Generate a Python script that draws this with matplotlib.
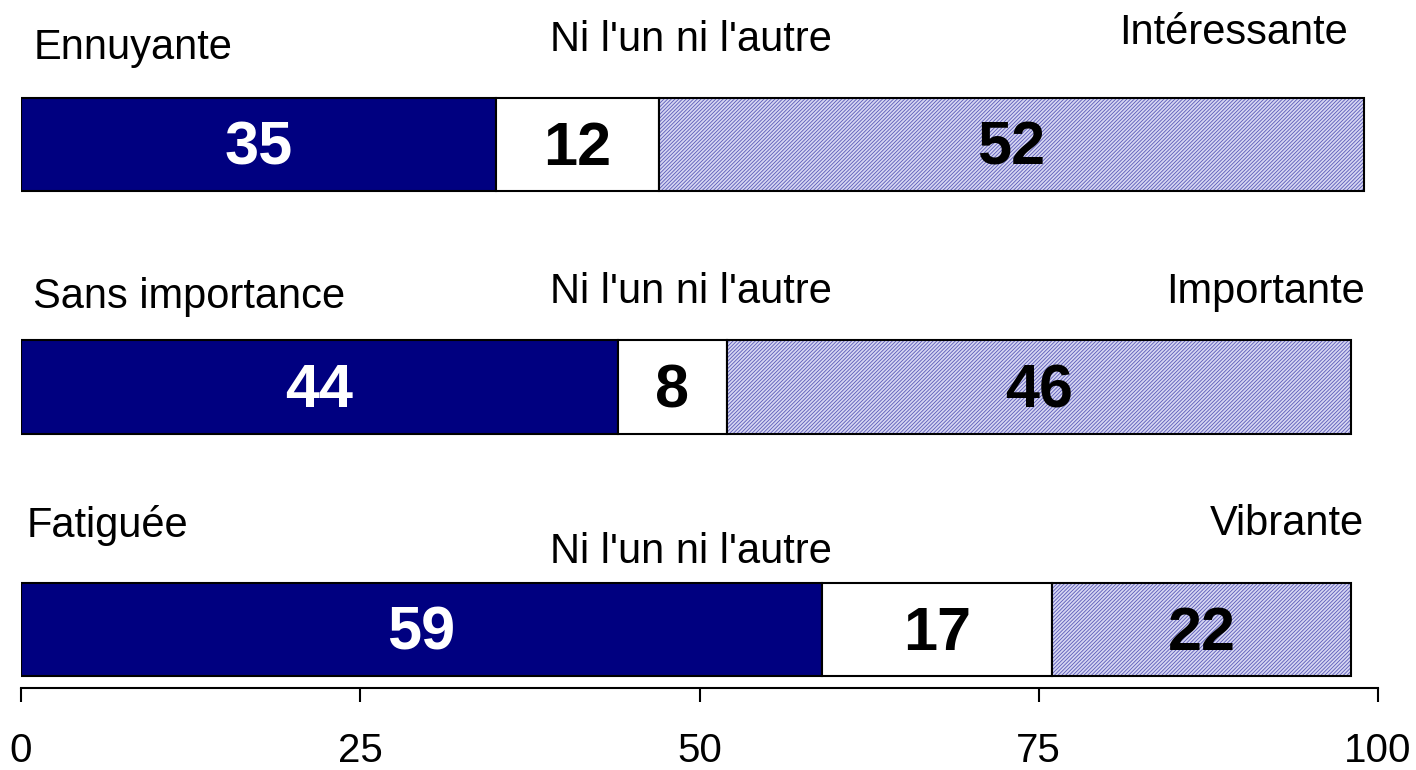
import numpy as np
import matplotlib.pyplot as plt

rows = [0, 1, 2]
left_labels = ['Ennuyante', 'Sans importance', 'Fatiguée']
right_labels = ['Intéressante', 'Importante', 'Vibrante']
mid_label = "Ni l'un ni l'autre"
negative = [35, 44, 59]
neutral = [12, 8, 17]
positive = [52, 46, 22]
ticks = [0, 25, 50, 75, 100]

plt.rcParams['font.family'] = ['Liberation Sans', 'DejaVu Sans']
plt.rcParams['hatch.linewidth'] = 0.6

fig = plt.figure(figsize=(14.16, 7.7), dpi=100)
ax = fig.add_axes([21 / 1416, 82 / 770, 1357 / 1416, 688 / 770])

h = 0.385
neg = np.array(negative)
neu = np.array(neutral)
pos = np.array(positive)

ax.barh(rows, neg, height=h, color='#000080', edgecolor='black', linewidth=1.5)
ax.barh(rows, neu, left=neg, height=h, color='white', edgecolor='black', linewidth=1.5)
# hatched segment: navy hatch first, then a plain black outline on top
ax.barh(rows, pos, left=neg + neu, height=h, color='#d6d6f2', edgecolor='#5a5ab8',
        hatch='/////////', linewidth=0)
ax.barh(rows, pos, left=neg + neu, height=h, fill=False, edgecolor='black', linewidth=1.5)

for i in rows:
    ax.text(neg[i] / 2, i + 0.02, str(negative[i]), ha='center', va='center',
            fontsize=44, fontweight='bold', color='white')
    ax.text(neg[i] + neu[i] / 2, i + 0.02, str(neutral[i]), ha='center', va='center',
            fontsize=44, fontweight='bold', color='black')
    ax.text(neg[i] + neu[i] + pos[i] / 2, i + 0.02, str(positive[i]), ha='center', va='center',
            fontsize=44, fontweight='bold', color='black')

# category captions above each bar
left_x = [0.9, 0.9, 0.45]
left_y = [-0.40, -0.37, -0.43]
mid_y = [-0.43, -0.39, -0.32]
right_x = [97.8, 99.0, 99.0]
right_y = [-0.46, -0.39, -0.435]
for i in rows:
    ax.text(left_x[i], i + left_y[i], left_labels[i], ha='left', va='center', fontsize=30)
    ax.text(49.4, i + mid_y[i], mid_label, ha='center', va='center', fontsize=30)
    ax.text(right_x[i], i + right_y[i], right_labels[i], ha='right', va='center', fontsize=30)

ax.set_xlim(0, 100)
ax.set_ylim(2.241, -0.596)
ax.set_xticks(ticks)
ax.set_xticklabels([str(t) for t in ticks], fontsize=29)
ax.set_yticks([])
for s in ['left', 'right', 'top']:
    ax.spines[s].set_visible(False)
ax.spines['bottom'].set_linewidth(1.5)
ax.tick_params(axis='x', length=10, width=1.5, pad=22)
ax.patch.set_visible(False)

fig.savefig('out.png', dpi=100)
